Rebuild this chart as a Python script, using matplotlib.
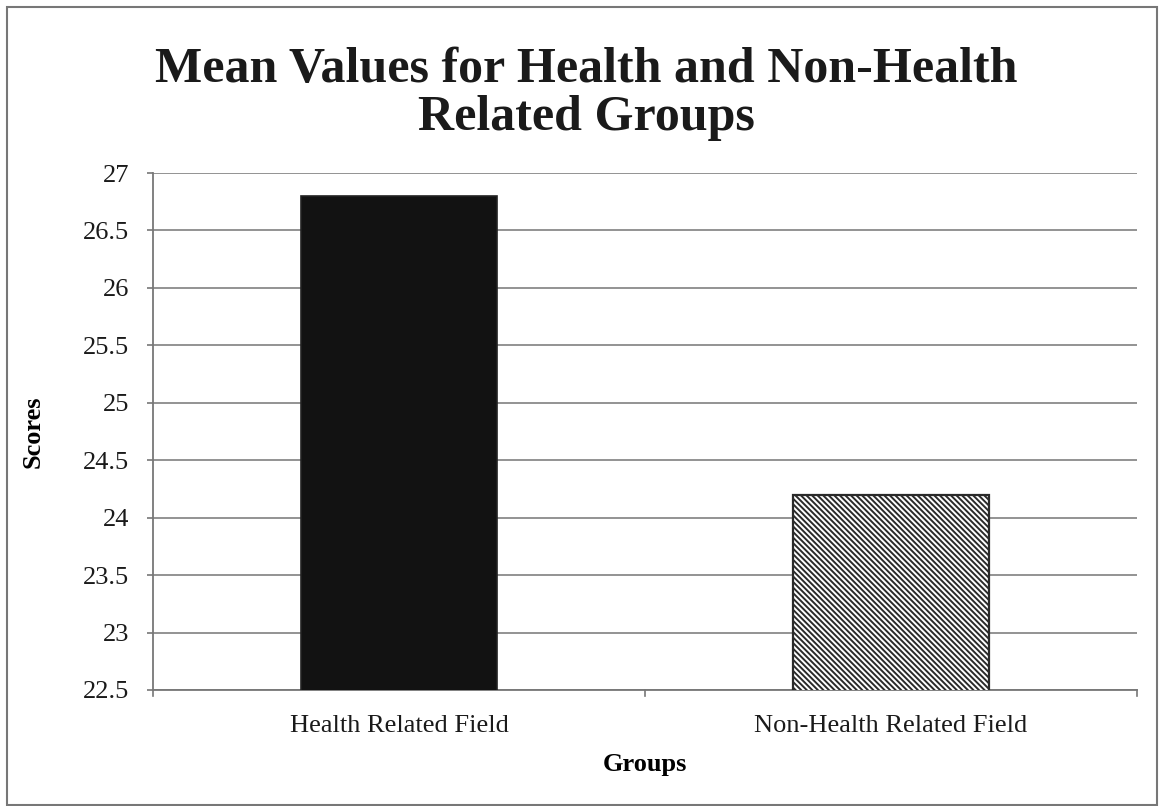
import matplotlib
matplotlib.use("Agg")
import matplotlib.pyplot as plt
from matplotlib.patches import Rectangle

groups = ["Health Related Field", "Non-Health Related Field"]
mean_scores = [26.8, 24.2]
y_ticks = [22.5, 23, 23.5, 24, 24.5, 25, 25.5, 26, 26.5, 27]
y_tick_labels = ["22.5", "23", "23.5", "24", "24.5", "25", "25.5", "26", "26.5", "27"]

serif = ["Liberation Serif", "DejaVu Serif"]
plt.rcParams["hatch.linewidth"] = 1.4
plt.rcParams["hatch.color"] = "#454545"

fig = plt.figure(figsize=(11.59, 8.06), dpi=100)
ax = fig.add_axes([153 / 1159, 1 - 690 / 806, (1137 - 153) / 1159, (690 - 173) / 806])

x = list(range(len(groups)))
ax.bar(x[0], mean_scores[0], bottom=0, width=0.4, color="#121212",
       edgecolor="#222222", linewidth=1.2, zorder=3)
ax.bar(x[1], mean_scores[1], bottom=0, width=0.4, color="white",
       edgecolor="#2a2a2a", hatch="\\" * 6, linewidth=1.6, zorder=3)

ax.set_xlim(-0.5, 1.5)
ax.set_ylim(22.5, 27)
ax.set_yticks(y_ticks)
ax.set_yticklabels(y_tick_labels, fontfamily=serif, fontsize=19, color="#1a1a1a")
ax.set_xticks(x)
ax.set_xticklabels(groups, fontfamily=serif, fontsize=19, color="#1a1a1a")
ax.tick_params(axis="x", length=0, pad=18)
ax.tick_params(axis="y", length=4, color="#777777", width=1.2, pad=13)

# category boundary ticks under the x axis
for bx in [-0.5, 0.5, 1.5]:
    ax.plot([bx, bx], [22.5, 22.5 - 0.05], color="#777777", lw=1.2,
            clip_on=False, zorder=4)

ax.yaxis.grid(True, color="#8a8a8a", linewidth=1.3, zorder=0)
ax.set_axisbelow(True)
for side in ["top", "right"]:
    ax.spines[side].set_visible(False)
for side in ["left", "bottom"]:
    ax.spines[side].set_color("#777777")
    ax.spines[side].set_linewidth(1.3)

ax.set_ylabel("Scores", fontfamily=serif, fontsize=19, fontweight="bold")
ax.yaxis.set_label_coords((33 - 153) / (1137 - 153), 0.5)
ax.set_xlabel("Groups", fontfamily=serif, fontsize=19, fontweight="bold")
ax.xaxis.set_label_coords(0.5, -(764 - 690) / (690 - 173))
ax.xaxis.label.set_va("center")
ax.yaxis.label.set_va("center")

fig.text(586 / 1159, 1 - 94 / 806, "Mean Values for Health and Non-Health\nRelated Groups",
         ha="center", va="center", fontfamily=serif, fontsize=36,
         fontweight="bold", color="#1a1a1a", linespacing=1.05)

# outer chart frame
fig.add_artist(Rectangle((7 / 1159, 1 / 806), 1150 / 1159, 798 / 806,
                         transform=fig.transFigure, fill=False,
                         edgecolor="#777777", linewidth=1.5))

fig.savefig("out.png", dpi=100)
